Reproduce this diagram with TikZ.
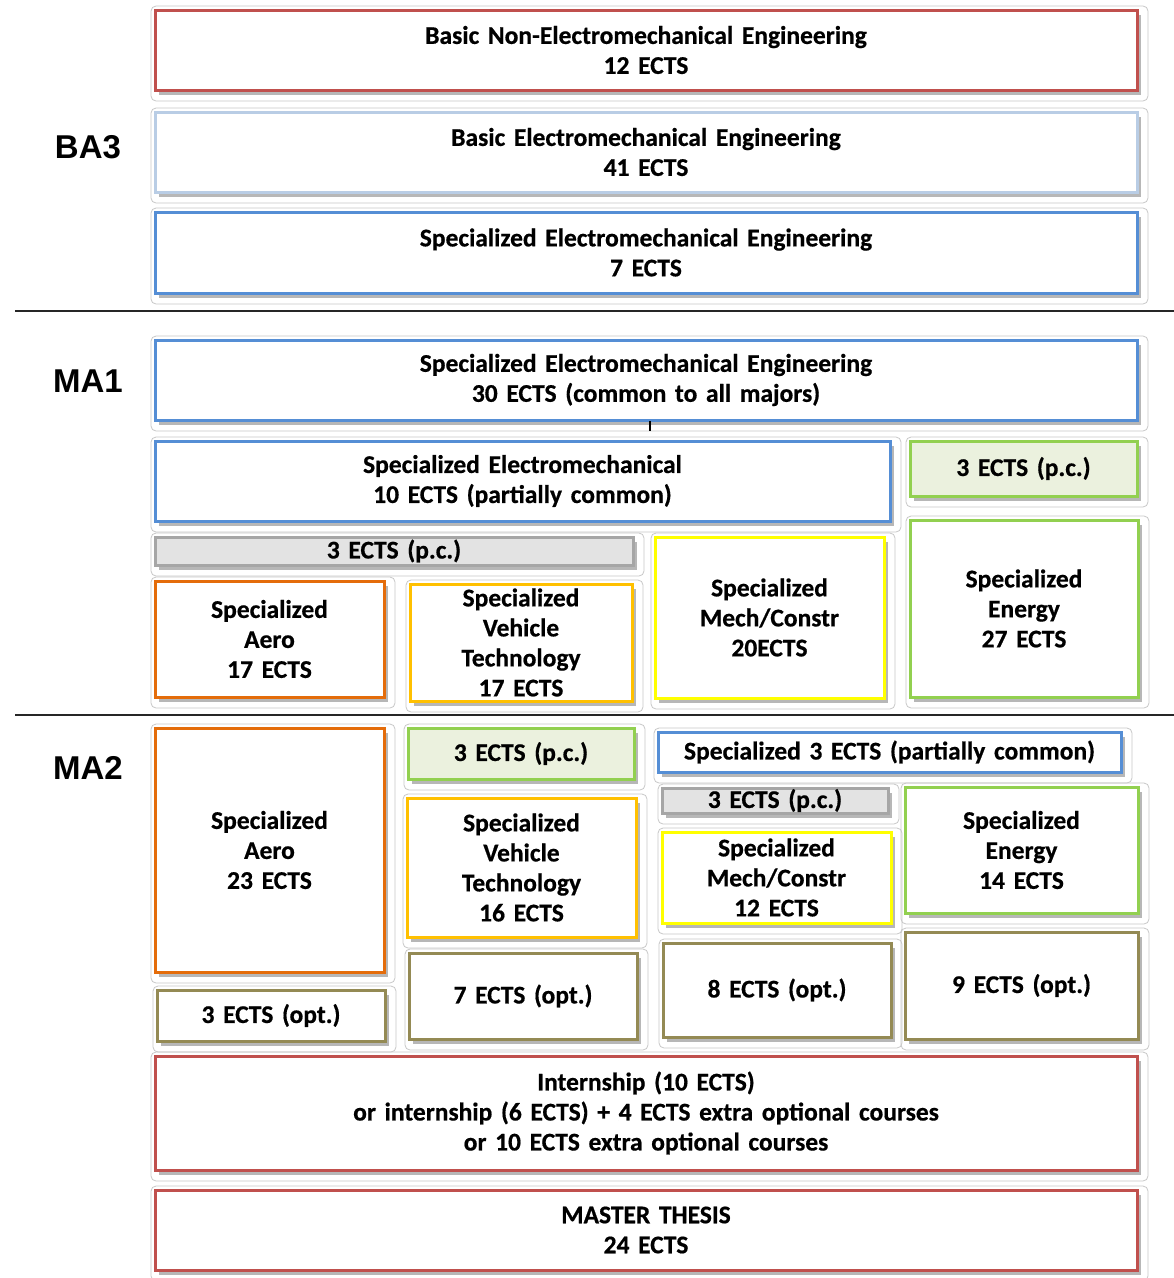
\documentclass[tikz,border=0pt]{standalone}
\usepackage{fontspec}
\setmainfont{Carlito}[WordSpace=1.5, BoldFeatures={FakeBold=0.6}]
\newfontfamily\labfont{Liberation Sans}
\usetikzlibrary{fit,shadows}
\definecolor{cred}{HTML}{C0504D}
\definecolor{clblue}{HTML}{B9CDE5}
\definecolor{cblue}{HTML}{558ED5}
\definecolor{corange}{HTML}{E46C0A}
\definecolor{camber}{HTML}{FFC000}
\definecolor{cyellow}{HTML}{FFFF00}
\definecolor{cgreen}{HTML}{92D050}
\definecolor{cgreenfill}{HTML}{EBF1DE}
\definecolor{cgreyfill}{HTML}{E3E3E3}
\definecolor{cgreyline}{HTML}{A6A6A6}
\definecolor{colive}{HTML}{948A54}
\definecolor{cframe}{HTML}{C8C8C8}
\tikzset{
  ebox/.style={rectangle, line width=3pt, inner sep=0pt,
    drop shadow={shadow xshift=4pt, shadow yshift=-5pt, fill=black!40, opacity=0.7}},
  etext/.style={inner sep=0pt, align=center,
    font=\bfseries\fontsize{25.5}{30}\selectfont},
  frame/.style={draw=cframe, line width=0.8pt, rounded corners=5pt},
  lab/.style={font=\labfont\bfseries\fontsize{33}{36}\selectfont},
  sepline/.style={draw=black!85, line width=1.4pt},
  tick/.style={draw=black, line width=1.6pt}
}
\newcommand\ebox[8]{%
  \draw[frame] (#2-4,#3-4) rectangle (#4+11,#5+11);
  \node[ebox, draw=#6, fill=#7, fit={(#2,#3) (#4,#5)}] (#1) {};
  \node[etext] (#1t) at (#1.center) {#8};
}
\begin{document}
\begin{tikzpicture}[x=1pt,y=-1pt]
\useasboundingbox[fill=white] (0,0) rectangle (1174,1278);
% BA3
\ebox{b1}{155}{10}{1137}{90}{cred}{white}{Basic Non-Electromechanical Engineering\\12 ECTS}
\ebox{b2}{155}{112}{1137}{192}{clblue}{white}{Basic Electromechanical Engineering\\41 ECTS}
\ebox{b3}{155}{212}{1137}{293}{cblue}{white}{Specialized Electromechanical Engineering\\7 ECTS}
\node[lab] (ba3) at (88,147) {BA3};
\coordinate (s1a) at (15,311); \coordinate (s1b) at (1174,311);
\draw[sepline] (s1a) -- (s1b);
% MA1
\ebox{b4}{155}{340}{1137}{420}{cblue}{white}{Specialized Electromechanical Engineering\\30 ECTS (common to all majors)}
\coordinate (t1a) at (650,421); \coordinate (t1b) at (650,431);
\draw[tick] (t1a) -- (t1b);
\ebox{b5}{155}{441}{890}{521}{cblue}{white}{Specialized Electromechanical\\10 ECTS (partially common)}
\ebox{b6}{910}{441}{1137}{496}{cgreen}{cgreenfill}{3 ECTS (p.c.)}
\ebox{b7}{155}{537}{633}{565}{cgreyline}{cgreyfill}{3 ECTS (p.c.)}
\ebox{b8}{155}{581}{384}{697}{corange}{white}{Specialized\\Aero\\17 ECTS}
\ebox{b9}{410}{584}{632}{701}{camber}{white}{Specialized\\Vehicle\\Technology\\17 ECTS}
\ebox{b10}{655}{537}{884}{698}{cyellow}{white}{Specialized\\Mech/Constr\\20ECTS}
\ebox{b11}{910}{520}{1138}{697}{cgreen}{white}{Specialized\\Energy\\27 ECTS}
\node[lab] (ma1) at (88,381) {MA1};
\coordinate (s2a) at (15,715); \coordinate (s2b) at (1174,715);
\draw[sepline] (s2a) -- (s2b);
% MA2
\ebox{b12}{155}{728}{384}{972}{corange}{white}{Specialized\\Aero\\23 ECTS}
\ebox{b13}{157}{990}{385}{1041}{colive}{white}{3 ECTS (opt.)}
\ebox{b14}{408}{728}{634}{779}{cgreen}{cgreenfill}{3 ECTS (p.c.)}
\ebox{b15}{407}{798}{636}{937}{camber}{white}{Specialized\\Vehicle\\Technology\\16 ECTS}
\ebox{b16}{409}{953}{637}{1039}{colive}{white}{7 ECTS (opt.)}
\ebox{b17}{658}{732}{1121}{772}{cblue}{white}{Specialized 3 ECTS (partially common)}
\ebox{b18}{662}{788}{888}{813}{cgreyline}{cgreyfill}{3 ECTS (p.c.)}
\ebox{b19}{662}{832}{891}{923}{cyellow}{white}{Specialized\\Mech/Constr\\12 ECTS}
\ebox{b20}{905}{787}{1138}{913}{cgreen}{white}{Specialized\\Energy\\14 ECTS}
\ebox{b21}{663}{943}{891}{1037}{colive}{white}{8 ECTS (opt.)}
\ebox{b22}{905}{932}{1138}{1039}{colive}{white}{9 ECTS (opt.)}
\node[lab] (ma2) at (88,768) {MA2};
\ebox{b23}{155}{1056}{1137}{1170}{cred}{white}{Internship (10 ECTS)\\or internship (6 ECTS) + 4 ECTS extra optional courses\\or 10 ECTS extra optional courses}
\ebox{b24}{155}{1190}{1137}{1270}{cred}{white}{MASTER THESIS\\24 ECTS}
\end{tikzpicture}
\end{document}
